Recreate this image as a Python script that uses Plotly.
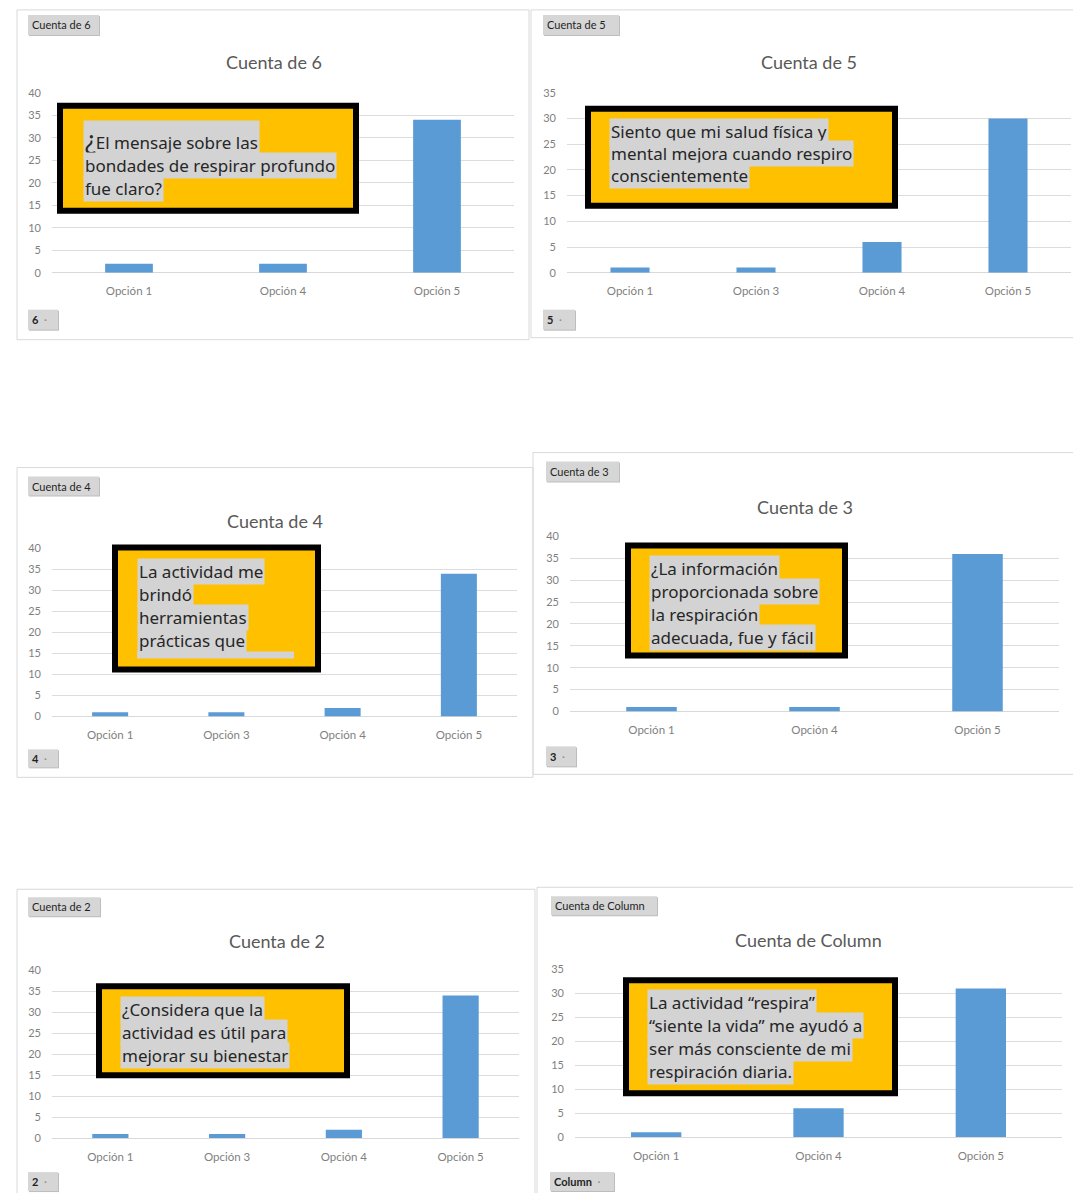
import plotly.graph_objects as go

W, H = 1073, 1193

# ---------------- data ----------------
cats_6 = ["Opción 1", "Opción 4", "Opción 5"]
vals_6 = [2, 2, 34]
cats_5 = ["Opción 1", "Opción 3", "Opción 4", "Opción 5"]
vals_5 = [1, 1, 6, 30]
cats_4 = ["Opción 1", "Opción 3", "Opción 4", "Opción 5"]
vals_4 = [1, 1, 2, 34]
cats_3 = ["Opción 1", "Opción 4", "Opción 5"]
vals_3 = [1, 1, 36]
cats_2 = ["Opción 1", "Opción 3", "Opción 4", "Opción 5"]
vals_2 = [1, 1, 2, 34]
cats_col = ["Opción 1", "Opción 4", "Opción 5"]
vals_col = [1, 6, 31]

titles = ["Cuenta de 6", "Cuenta de 5", "Cuenta de 4", "Cuenta de 3", "Cuenta de 2", "Cuenta de Column"]
field_buttons = ["6", "5", "4", "3", "2", "Column"]
y_max = [40, 35, 40, 40, 40, 35]

q_6 = ["<span style='font-size:25px'>¿</span>El mensaje sobre las", "bondades de respirar profundo", "fue claro?"]
q_5 = ["Siento que mi salud física y", "mental mejora cuando respiro", "conscientemente"]
q_4 = ["La actividad me", "brindó", "herramientas", "prácticas que"]
q_3 = ["¿La información", "proporcionada sobre", "la respiración", "adecuada, fue y fácil"]
q_2 = ["¿Considera que la", "actividad es útil para", "mejorar su bienestar"]
q_col = ["La actividad “respira”", "“siente la vida” me ayudó a", "ser más consciente de mi", "respiración diaria."]

cats = [cats_6, cats_5, cats_4, cats_3, cats_2, cats_col]
vals = [vals_6, vals_5, vals_4, vals_3, vals_2, vals_col]
questions = [q_6, q_5, q_4, q_3, q_2, q_col]

# ---------------- layout geometry (pixels) ----------------
plots = [
    (52, 514, 93, 273),
    (567, 1071, 93, 273),
    (52, 517, 549, 717),
    (570, 1059, 537, 712),
    (52, 519, 971, 1139),
    (575, 1062, 970, 1138),
]
panels = [
    (17, 529, 10, 340),
    (531, 1080, 10, 338),
    (17, 533, 468, 778),
    (533, 1080, 453, 775),
    (17, 535, 890, 1210),
    (537, 1080, 888, 1210),
]
title_pos = [(274, 62), (809, 62), (275, 521), (805, 507), (277, 942), (808, 941)]
top_btn = [(28, 99, 15, 35), (543, 619, 15, 35), (28, 99, 477, 496),
           (546, 619, 462, 482), (28, 100, 898, 917), (551, 657, 897, 916)]
bot_btn = [(28, 58, 310, 330), (543, 575, 310, 330), (28, 58, 750, 768),
           (546, 576, 747, 767), (28, 58, 1173, 1192), (550, 614, 1173, 1192)]
boxes = [(57, 359, 103, 214), (585, 898, 106, 209), (112, 321, 545, 673),
         (625, 848, 543, 659), (96, 350, 984, 1079), (623, 898, 978, 1097)]
text_left = [83, 609, 137, 649, 120, 647]
text_lines_y = [
    [139, 166, 189],
    [132, 154, 176],
    [572, 595, 618, 641],
    [569, 592, 615, 638],
    [1010, 1033, 1056],
    [1003, 1026, 1049, 1072],
]

# vertical correction measured from the rendered page
VS, VO = 0.9898, 7.1


def fx(x):
    return x / W


def fy(y):
    return 1 - ((y - VO) / VS) / H


fig = go.Figure()
layout = dict(
    width=W, height=H, margin=dict(l=0, r=0, t=0, b=0),
    paper_bgcolor="white", plot_bgcolor="white", showlegend=False,
    bargap=0.69,
)

shapes = []
annotations = []

for i in range(6):
    n = "" if i == 0 else str(i + 1)
    x0, x1, yt, y0 = plots[i]
    fig.add_trace(go.Bar(
        x=cats[i], y=vals[i], marker=dict(color="#5B9BD5", line=dict(width=0)),
        xaxis="x" + n, yaxis="y" + n, hoverinfo="x+y",
    ))
    layout["xaxis" + n] = dict(
        domain=[fx(x0), fx(x1)], anchor="y" + n, type="category",
        categoryorder="array", categoryarray=cats[i],
        showgrid=False, showline=False, zeroline=False, ticks="",
        tickfont=dict(family="Lato", size=11.5, color="#7F7F7F"),
        ticklabelstandoff=10, fixedrange=True,
    )
    layout["yaxis" + n] = dict(
        domain=[fy(y0), fy(yt)], anchor="x" + n, range=[0, y_max[i]],
        dtick=5, tick0=0, showgrid=True, gridcolor="#DCDCDC", gridwidth=1,
        zeroline=True, zerolinecolor="#D9D9D9", zerolinewidth=1,
        showline=False, ticks="",
        tickfont=dict(family="Lato", size=11, color="#7F7F7F"),
        ticklabelstandoff=10, fixedrange=True,
    )

    # panel border
    px0, px1, py0, py1 = panels[i]
    shapes.append(dict(type="rect", xref="paper", yref="paper", layer="below",
                       x0=fx(px0), x1=fx(px1), y0=fy(py1), y1=fy(py0),
                       line=dict(color="#D9D9D9", width=1), fillcolor="rgba(0,0,0,0)"))

    # title
    tx, ty = title_pos[i]
    annotations.append(dict(xref="paper", yref="paper", x=fx(tx), y=fy(ty),
                            text=titles[i], showarrow=False, xanchor="center", yanchor="middle",
                            font=dict(family="Lato", size=18, color="#595959")))

    # field buttons
    for (bx0, bx1, by0, by1), label in ((top_btn[i], titles[i]), (bot_btn[i], None)):
        shapes.append(dict(type="rect", xref="paper", yref="paper", layer="above",
                           x0=fx(bx0 + 1), x1=fx(bx1 + 1), y0=fy(by1 + 1), y1=fy(by0 + 1),
                           line=dict(width=0), fillcolor="#BDBDBD"))
        shapes.append(dict(type="rect", xref="paper", yref="paper", layer="above",
                           x0=fx(bx0), x1=fx(bx1), y0=fy(by1), y1=fy(by0),
                           line=dict(width=0), fillcolor="#D6D6D6"))
        if label is not None:
            txt = label
        else:
            txt = "<b>" + field_buttons[i] + "</b>  <span style='color:#8C8C8C'>·</span>"
        annotations.append(dict(xref="paper", yref="paper", x=fx(bx0 + 2), y=fy((by0 + by1) / 2),
                                text=txt, showarrow=False, xanchor="left", yanchor="middle",
                                font=dict(family="Lato", size=11, color="#1F1F1F")))

    # yellow callout box
    bx0, bx1, by0, by1 = boxes[i]
    shapes.append(dict(type="rect", xref="paper", yref="paper", layer="above",
                       x0=fx(bx0 + 3), x1=fx(bx1 - 3), y0=fy(by1 - 3), y1=fy(by0 + 3),
                       line=dict(color="#000000", width=6), fillcolor="#FFC000"))
    for line_text, ly in zip(questions[i], text_lines_y[i]):
        annotations.append(dict(xref="paper", yref="paper", x=fx(text_left[i]), y=fy(ly),
                                text=line_text, showarrow=False, xanchor="left", yanchor="middle",
                                bgcolor="#D3D3D3", borderpad=1,
                                font=dict(family="Noto Sans", size=17, color="#262626")))

# clipped fifth line of the "Cuenta de 4" callout
shapes.append(dict(type="rect", xref="paper", yref="paper", layer="above",
                   x0=fx(137), x1=fx(294), y0=fy(659), y1=fy(652),
                   line=dict(width=0), fillcolor="#D3D3D3"))

layout["shapes"] = shapes
layout["annotations"] = annotations
fig.update_layout(**layout)

fig.write_html("out.html", config={"displayModeBar": False})
